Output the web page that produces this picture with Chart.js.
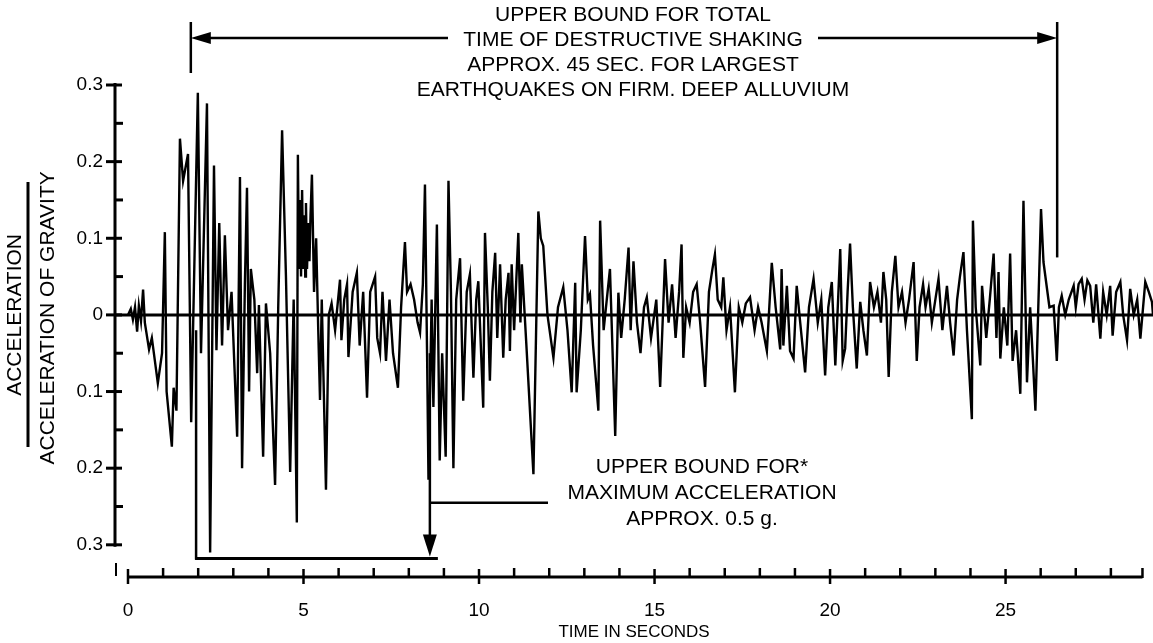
<!DOCTYPE html>
<html>
<head>
<meta charset="utf-8">
<script src="https://cdn.jsdelivr.net/npm/chart.js@4.4.1/dist/chart.umd.min.js"></script>
<style>
  html, body { margin: 0; padding: 0; background: #fff; }
  #wrap { width: 1153px; height: 643px; position: relative; }
</style>
</head>
<body>
<div id="wrap"><canvas id="myChart"></canvas></div>
<script>
// accelerogram: time (s) and acceleration (g)
var timeSec = [
  0.00, 0.08, 0.14, 0.20, 0.26, 0.31, 0.37, 0.43, 0.48, 0.60, 0.68, 0.85, 0.97, 1.05, 1.10, 1.25, 1.30, 1.38, 1.48, 1.57,
  1.71, 1.80, 1.99, 2.08, 2.25, 2.34, 2.45, 2.52, 2.60, 2.68, 2.76, 2.85, 2.95, 3.11, 3.19, 3.25, 3.33, 3.39, 3.45, 3.50,
  3.60, 3.68, 3.73, 3.85, 3.93, 4.05, 4.19, 4.28, 4.39, 4.50, 4.62, 4.72, 4.81, 4.84, 4.87, 4.90, 4.93, 4.96, 4.99, 5.02, 5.05, 5.07, 5.10, 5.14, 5.17, 5.20,
  5.24, 5.30, 5.36, 5.42, 5.47, 5.52, 5.64, 5.72, 5.80, 5.90, 6.04, 6.08, 6.16, 6.24, 6.28, 6.40, 6.52, 6.60, 6.70, 6.81,
  6.90, 7.04, 7.10, 7.18, 7.25, 7.35, 7.45, 7.55, 7.69, 7.78, 7.89, 7.95, 8.05, 8.15, 8.25, 8.32, 8.40, 8.46, 8.52, 8.56,
  8.65, 8.70, 8.80, 8.88, 8.95, 9.05, 9.13, 9.20, 9.27, 9.35, 9.46, 9.55, 9.65, 9.74, 9.84, 9.92, 9.98, 10.12, 10.17, 10.25,
  10.31, 10.38, 10.46, 10.52, 10.60, 10.69, 10.76, 10.84, 10.88, 10.93, 11.00, 11.12, 11.18, 11.22, 11.35, 11.55, 11.69, 11.76, 11.83, 11.95,
  12.12, 12.25, 12.40, 12.52, 12.64, 12.74, 12.78, 12.90, 13.02, 13.10, 13.16, 13.25, 13.40, 13.45, 13.55, 13.73, 13.88, 13.97, 14.05, 14.15,
  14.26, 14.32, 14.40, 14.50, 14.60, 14.70, 14.78, 14.90, 15.05, 15.16, 15.30, 15.40, 15.50, 15.60, 15.70, 15.77, 15.82, 15.90, 16.00, 16.10,
  16.20, 16.30, 16.44, 16.55, 16.65, 16.72, 16.80, 16.90, 16.96, 17.05, 17.15, 17.29, 17.40, 17.50, 17.60, 17.72, 17.85, 17.95, 18.05, 18.20,
  18.34, 18.45, 18.58, 18.62, 18.67, 18.77, 18.86, 18.96, 19.05, 19.15, 19.29, 19.40, 19.53, 19.65, 19.75, 19.86, 19.95, 20.05, 20.15, 20.29,
  20.36, 20.43, 20.50, 20.57, 20.65, 20.76, 20.86, 20.95, 21.05, 21.14, 21.25, 21.35, 21.45, 21.52, 21.60, 21.67, 21.76, 21.86, 21.95, 22.05,
  22.15, 22.25, 22.38, 22.47, 22.55, 22.65, 22.72, 22.81, 22.90, 23.00, 23.09, 23.20, 23.33, 23.42, 23.52, 23.62, 23.70, 23.80, 23.90, 24.04,
  24.07, 24.15, 24.28, 24.33, 24.45, 24.55, 24.66, 24.74, 24.80, 24.85, 24.95, 25.05, 25.13, 25.20, 25.30, 25.42, 25.51, 25.61, 25.70, 25.78,
  25.85, 26.01, 26.08, 26.25, 26.37, 26.46, 26.52, 26.60, 26.70, 26.80, 26.94, 27.00, 27.08, 27.17, 27.25, 27.33, 27.41, 27.50, 27.58, 27.70,
  27.78, 27.88, 27.98, 28.05, 28.15, 28.27, 28.35, 28.46, 28.55, 28.65, 28.75, 28.84, 28.98, 29.08, 29.17, 29.20
];
var accelG = [
  0.000, 0.008, -0.006, 0.010, -0.022, 0.012, -0.008, 0.033, -0.010, -0.045, -0.030, -0.089, -0.050, 0.108, -0.100, -0.172, -0.095, -0.125, 0.230, 0.175,
  0.210, -0.140, 0.290, -0.050, 0.276, -0.310, 0.195, -0.046, 0.120, -0.040, 0.104, -0.020, 0.030, -0.159, 0.180, -0.200, 0.040, 0.166, -0.100, 0.060,
  0.020, -0.076, 0.013, -0.185, 0.015, -0.050, -0.222, 0.010, 0.241, 0.050, -0.205, 0.020, -0.271, 0.209, 0.060, 0.150, 0.050, 0.163, 0.060, 0.130, 0.050, 0.146, 0.060, 0.120, 0.070, 0.130,
  0.183, 0.030, 0.100, -0.020, -0.111, 0.020, -0.228, 0.000, 0.015, -0.020, 0.046, -0.033, 0.020, 0.040, -0.055, 0.030, 0.055, -0.040, 0.030, -0.108,
  0.030, 0.050, -0.030, -0.050, 0.030, -0.060, 0.020, -0.050, -0.095, 0.010, 0.095, 0.030, 0.040, 0.020, -0.010, -0.023, 0.040, 0.170, -0.050, -0.215,
  0.020, -0.120, 0.118, -0.190, -0.050, -0.185, 0.175, 0.030, -0.200, 0.020, 0.074, -0.112, 0.030, 0.053, -0.082, 0.020, 0.044, -0.121, 0.107, 0.010,
  -0.086, 0.030, 0.081, -0.030, 0.066, -0.056, 0.020, 0.055, -0.047, 0.066, -0.020, 0.107, -0.010, 0.066, -0.040, -0.208, 0.135, 0.100, 0.090, 0.000,
  -0.056, 0.010, 0.036, -0.020, -0.101, 0.042, -0.101, -0.020, 0.103, 0.020, 0.027, -0.040, -0.125, 0.123, -0.020, 0.060, -0.158, 0.029, -0.030, 0.020,
  0.088, -0.020, 0.070, -0.010, -0.050, 0.010, 0.023, -0.030, 0.020, -0.094, 0.073, -0.010, 0.040, -0.030, 0.030, 0.092, -0.056, 0.010, -0.010, 0.030,
  0.040, -0.010, -0.094, 0.030, 0.060, 0.079, 0.020, 0.010, 0.049, -0.020, 0.010, -0.101, 0.010, -0.010, 0.015, 0.023, -0.020, 0.010, -0.010, -0.047,
  0.068, 0.010, -0.045, 0.060, -0.040, 0.038, -0.047, -0.057, 0.038, -0.010, -0.075, 0.010, 0.047, -0.010, 0.020, -0.079, 0.010, 0.043, -0.066, 0.086,
  -0.060, -0.044, 0.030, 0.093, 0.010, -0.070, 0.017, -0.020, -0.053, 0.043, 0.010, 0.030, -0.010, 0.056, 0.020, -0.081, 0.030, 0.077, 0.010, 0.030,
  -0.010, 0.020, 0.069, -0.060, 0.010, 0.040, 0.010, 0.034, -0.010, 0.020, 0.047, -0.020, 0.038, -0.010, -0.053, 0.020, 0.050, 0.082, -0.020, -0.136,
  0.123, 0.010, -0.066, 0.038, -0.030, 0.020, 0.080, -0.030, 0.056, -0.057, 0.010, -0.040, 0.080, -0.060, -0.020, -0.103, 0.149, -0.088, 0.010, -0.060,
  -0.125, 0.138, 0.069, 0.010, 0.012, -0.060, 0.010, 0.025, 0.000, 0.020, 0.038, 0.010, 0.040, 0.047, 0.020, 0.045, 0.038, -0.010, 0.040, -0.031,
  0.030, 0.000, 0.038, -0.027, 0.030, 0.043, 0.000, -0.033, 0.034, 0.000, 0.020, -0.031, 0.043, 0.030, 0.017, 0.000
];
var zeroLineTime = [-0.37, 29.2];
var zeroLineAccel = [0, 0];
var xTickValues = [0, 5, 10, 15, 20, 25];
var yTickValues = [-0.3, -0.2, -0.1, 0, 0.1, 0.2, 0.3];

var fontFam = "'Liberation Sans', Arial, Helvetica, sans-serif";

function seg(ctx, x1, y1, x2, y2, w) {
    ctx.lineWidth = w;
    ctx.beginPath();
    ctx.moveTo(x1, y1);
    ctx.lineTo(x2, y2);
    ctx.stroke();
}

function arrowHead(ctx, x, y, dir, len, half) {
    // dir: 'left' 'right' 'down'
    ctx.beginPath();
    if (dir == 'left') {
        ctx.moveTo(x, y); ctx.lineTo(x + len, y - half); ctx.lineTo(x + len, y + half);
    } else if (dir == 'right') {
        ctx.moveTo(x, y); ctx.lineTo(x - len, y - half); ctx.lineTo(x - len, y + half);
    } else {
        ctx.moveTo(x, y); ctx.lineTo(x - half, y - len); ctx.lineTo(x + half, y - len);
    }
    ctx.closePath();
    ctx.fill();
}

var decor = {
    id: 'decor',
    afterDraw: function(chart) {
        var ctx = chart.ctx;
        var xs = chart.scales.x, ys = chart.scales.y;
        var px = function(v) { return xs.getPixelForValue(v) };
        var py = function(v) { return ys.getPixelForValue(v) };
        var area = chart.chartArea;
        ctx.save();
        ctx.strokeStyle = '#000';
        ctx.fillStyle = '#000';

        // y axis line + ticks
        var ax = area.left;
        seg(ctx, ax, py(0.3) - 2, ax, py(-0.3) + 2, 3);
        for (var k = -6; k <= 6; k++) {
            var yy = py(k * 0.05);
            if (k % 2 == 0) seg(ctx, ax - 9, yy, ax + 7, yy, 3);
            else seg(ctx, ax, yy, ax + 8, yy, 3);
        }

        // x axis line + ticks
        var by = area.bottom;
        seg(ctx, px(0), by, px(28.9), by, 3);
        for (var s = 0; s <= 28; s++) {
            var xx = px(s);
            if (s % 5 == 0) seg(ctx, xx, by - 8, xx, by + 7, 2.5);
            else seg(ctx, xx, by - 9, xx, by, 2.5);
        }
        seg(ctx, px(28.9), by - 9, px(28.9), by + 1, 2.5);
        seg(ctx, ax + 1, by - 14, ax + 1, by - 1, 2);

        // y axis title (fraction)
        ctx.save();
        ctx.translate(15, py(0));
        ctx.rotate(-Math.PI / 2);
        ctx.font = '21px ' + fontFam;
        ctx.textAlign = 'center';
        ctx.textBaseline = 'middle';
        ctx.fillText('ACCELERATION', 0, 0);
        seg(ctx, -132, 13, 133, 13, 3);
        ctx.fillText('ACCELERATION OF GRAVITY', -3, 33);
        ctx.restore();

        // top annotation
        var tL = px(1.79), tR = px(26.47), arrY = 38;
        seg(ctx, tL, 22, tL, 73, 2.5);
        seg(ctx, tR, 22, tR, py(0.075), 2.5);
        seg(ctx, tL + 10, arrY, 448, arrY, 2.5);
        seg(ctx, 818, arrY, tR - 10, arrY, 2.5);
        arrowHead(ctx, tL, arrY, 'left', 20, 6);
        arrowHead(ctx, tR, arrY, 'right', 20, 6);
        ctx.font = '21px ' + fontFam;
        ctx.textAlign = 'center';
        ctx.textBaseline = 'middle';
        ctx.fillText('UPPER BOUND FOR TOTAL', 633, 15);
        ctx.fillText('TIME OF DESTRUCTIVE SHAKING', 633, 40);
        ctx.fillText('APPROX. 45 SEC. FOR LARGEST', 633, 65);
        ctx.fillText('EARTHQUAKES ON FIRM. DEEP ALLUVIUM', 633, 90);

        // lower bracket to maximum acceleration
        var bL = px(1.94), bR = px(8.6), bY = py(-0.318);
        seg(ctx, bL, py(-0.02), bL, bY + 1, 2.5);
        seg(ctx, bL - 1, bY, bR + 8, bY, 3);
        seg(ctx, bR, py(-0.05), bR, bY - 18, 2.5);
        arrowHead(ctx, bR, bY - 2, 'down', 22, 7);
        seg(ctx, bR, py(-0.245), 548, py(-0.245), 2.5);
        ctx.fillText('UPPER BOUND FOR*', 702, 467);
        ctx.fillText('MAXIMUM ACCELERATION', 702, 493);
        ctx.fillText('APPROX. 0.5 g.', 702, 519);
        ctx.restore();
    }
};

var pts = timeSec.map(function(t, i) { return { x: t, y: accelG[i] } });
var zeroPts = zeroLineTime.map(function(t, i) { return { x: t, y: zeroLineAccel[i] } });

new Chart('myChart', {
    type: 'scatter',
    data: {
        datasets: [{
            data: pts,
            showLine: true,
            borderColor: '#000',
            borderWidth: 2.4,
            pointRadius: 0,
            tension: 0
        }, {
            data: zeroPts,
            showLine: true,
            borderColor: '#000',
            borderWidth: 3,
            pointRadius: 0
        }]
    },
    options: {
        responsive: true,
        maintainAspectRatio: false,
        animation: false,
        layout: { padding: { top: 85, left: 0, right: 0, bottom: 0 } },
        plugins: { legend: { display: false }, tooltip: { enabled: false } },
        scales: {
            x: {
                type: 'linear',
                min: -0.37,
                max: 29.2,
                border: { display: false },
                grid: { display: false },
                afterBuildTicks: function(s) { s.ticks = xTickValues.map(function(v) { return { value: v } }) },
                afterFit: function(s) { s.height = 66 },
                ticks: {
                    color: '#000',
                    padding: 14,
                    font: { family: fontFam, size: 19 },
                    callback: function(v) { return String(v) }
                },
                title: {
                    display: true,
                    text: 'TIME IN SECONDS',
                    color: '#000',
                    font: { family: fontFam, size: 17 },
                    padding: { top: 0, bottom: 0 }
                }
            },
            y: {
                type: 'linear',
                min: -0.342,
                max: 0.3,
                border: { display: false },
                grid: { display: false },
                afterBuildTicks: function(s) { s.ticks = yTickValues.map(function(v) { return { value: v } }) },
                afterFit: function(s) { s.width = 115 },
                ticks: {
                    color: '#000',
                    padding: 4,
                    font: { family: fontFam, size: 19 },
                    callback: function(v) { return v == 0 ? '0' : Math.abs(v).toFixed(1) }
                }
            }
        }
    },
    plugins: [decor]
});
</script>
</body>
</html>
